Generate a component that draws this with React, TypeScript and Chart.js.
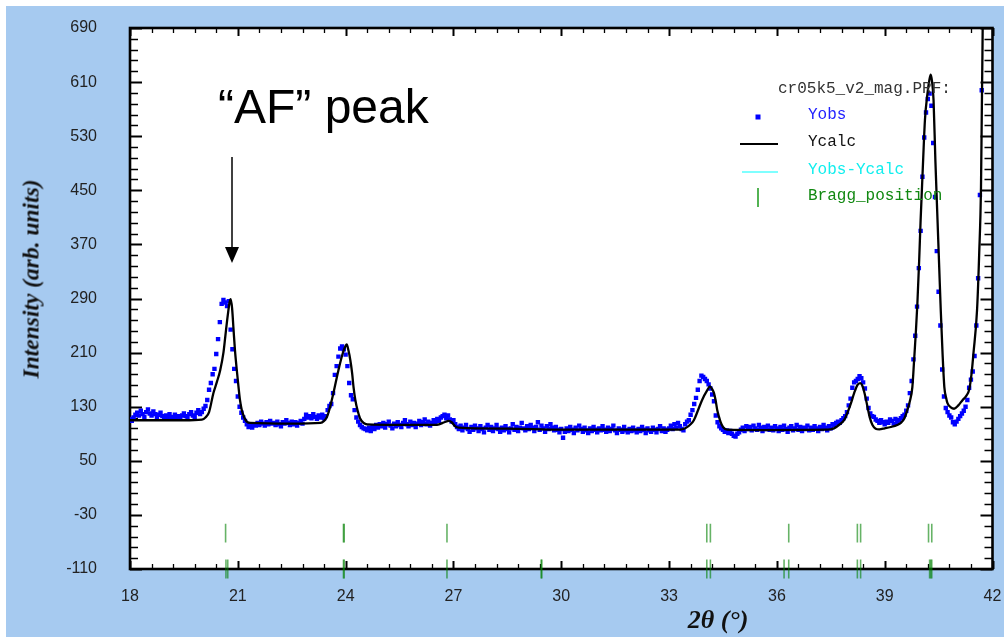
import React, { useEffect, useRef } from "react";
import { Chart, registerables } from "chart.js";

Chart.register(...registerables);

// ---------- axes ----------
const X_MIN = 18;
const X_MAX = 42;
const Y_MIN = -110;
const Y_MAX = 690;
const xTickLabels = [18, 21, 24, 27, 30, 33, 36, 39, 42];
const yTickLabels = [-110, -30, 50, 130, 210, 290, 370, 450, 530, 610, 690];
const xMinorStep = 0.6;
const yMinorStep = 16;

// ---------- Yobs : measured points, 2theta from 18.00 every 0.05 deg ----------
const obsStart = 18.0;
const obsStep = 0.05;
const yObs = [
  112, 109, 114, 118, 121, 117, 124, 119, 115, 122, 126, 120, 117, 123, 119, 114, 118, 121, 116, 113, // 18
  117, 114, 119, 115, 112, 118, 114, 116, 113, 117, 120, 116, 114, 119, 122, 117, 115, 121, 125, 119, // 19
  122, 127, 131, 140, 155, 165, 178, 186, 208, 230, 255, 282, 288, 284, 279, 286, 244, 215, 186, 168, // 20
  145, 130, 121, 114, 109, 104, 100, 103, 99, 104, 102, 106, 103, 108, 105, 102, 107, 104, 109, 105, // 21
  106, 103, 108, 104, 101, 107, 105, 110, 106, 103, 108, 104, 107, 102, 106, 109, 105, 112, 118, 114, // 22
  116, 113, 119, 115, 112, 117, 114, 118, 113, 116, 125, 131, 134, 150, 177, 190, 204, 216, 219, 215, // 23
  207, 190, 165, 147, 141, 125, 114, 108, 103, 100, 98, 97, 95, 99, 94, 100, 97, 103, 99, 104, // 24
  101, 106, 99, 104, 108, 102, 98, 105, 101, 107, 103, 100, 106, 110, 104, 101, 108, 103, 106, 100, // 25
  105, 109, 103, 107, 111, 104, 108, 102, 106, 110, 107, 112, 109, 114, 116, 118, 113, 117, 111, 108, // 26
  110, 104, 100, 97, 102, 95, 99, 103, 97, 93, 100, 96, 102, 98, 94, 101, 97, 92, 99, 103, // 27
  96, 100, 94, 98, 103, 97, 93, 99, 95, 101, 97, 92, 98, 104, 96, 100, 94, 99, 106, 98, // 28
  95, 101, 97, 103, 99, 94, 100, 107, 96, 102, 98, 93, 101, 97, 104, 99, 95, 100, 96, 92, // 29
  97, 84, 93, 98, 94, 100, 96, 91, 99, 95, 102, 97, 93, 99, 95, 91, 98, 94, 100, 96, // 30
  92, 98, 95, 101, 96, 93, 99, 94, 97, 102, 95, 91, 98, 96, 93, 100, 95, 92, 97, 94, // 31
  99, 95, 92, 97, 94, 100, 96, 91, 98, 95, 93, 99, 96, 92, 97, 101, 94, 98, 93, 96, // 32
  98, 102, 97, 104, 99, 106, 101, 97, 95, 104, 108, 110, 118, 125, 134, 143, 155, 168, 176, 174, // 33
  171, 168, 163, 157, 148, 138, 117, 107, 101, 98, 96, 93, 95, 91, 94, 90, 87, 86, 90, 92, // 34
  96, 99, 94, 101, 97, 100, 95, 102, 98, 96, 103, 99, 94, 100, 97, 102, 96, 99, 95, 101, // 35
  98, 94, 100, 96, 102, 97, 93, 99, 101, 95, 98, 103, 96, 100, 94, 99, 97, 102, 95, 99, // 36
  96, 101, 98, 94, 100, 97, 103, 99, 95, 101, 98, 104, 103, 106, 108, 106, 110, 113, 116, 122, // 37
  132, 142, 158, 166, 168, 171, 175, 172, 166, 157, 142, 128, 120, 116, 115, 111, 109, 106, 110, 107, // 38
  104, 108, 106, 111, 109, 105, 112, 106, 110, 113, 116, 118, 124, 132, 150, 168, 200, 235, 278, 335, // 39
  390, 470, 528, 565, 585, 593, 575, 520, 440, 360, 300, 250, 185, 145, 128, 122, 117, 114, 107, 104, // 40
  108, 112, 116, 120, 124, 130, 140, 158, 170, 182, 205, 250, 320, 443, 598, 720, 780, 820, 850, 870, // 41
  890, // 42
];

// ---------- Ycalc : calculated profile, read point by point ----------
const calcTheta = [
  18.0, 19.5, 20.0, 20.1, 20.2, 20.32, 20.42, 20.51, 20.6, 20.65, 20.72, 20.77, 20.8, 20.84, 20.88, 20.92,
  20.97, 21.02, 21.06, 21.11, 21.18, 21.25, 21.35, 22.5, 23.3, 23.4, 23.48, 23.57, 23.66, 23.8, 23.92, 24.0,
  24.03, 24.08, 24.13, 24.18, 24.22, 24.27, 24.33, 24.4, 24.5, 24.6, 26.5, 26.6, 26.75, 26.87, 26.95, 27.05,
  27.15, 28.5, 30.0, 33.3, 33.45, 33.6, 33.69, 33.8, 33.92, 34.06, 34.14, 34.2, 34.25, 34.3, 34.34, 34.39,
  34.43, 34.5, 34.62, 35.5, 37.4, 37.59, 37.75, 37.87, 37.97, 38.06, 38.15, 38.24, 38.32, 38.37, 38.42, 38.47,
  38.52, 38.58, 38.66, 38.75, 38.85, 39.0, 39.17, 39.35, 39.45, 39.55, 39.63, 39.7, 39.77, 39.82, 39.87, 39.91,
  39.96, 40.0, 40.07, 40.12, 40.19, 40.24, 40.28, 40.32, 40.36, 40.41, 40.47, 40.52, 40.56, 40.61, 40.66, 40.71,
  40.75, 40.84, 40.93, 41.05, 41.17, 41.27, 41.35, 41.42, 41.47, 41.57, 41.63, 41.68, 41.7, 41.72, 41.74, 41.78,
];
const yCalc = [
  110, 110, 111, 114, 122, 150, 167, 184, 210, 233, 265, 284, 289, 276, 245, 214,
  185, 159, 140, 125, 114, 108, 106, 105, 106, 109, 115, 130, 150, 184, 209, 220,
  222, 213, 199, 180, 159, 140, 125, 113, 106, 104, 103, 104, 107, 109, 107, 101,
  99, 97.5, 96, 96, 98, 104, 110, 124, 140, 154, 160, 156, 150, 138, 125, 115,
  108, 100, 96, 95.5, 96, 98, 104, 110, 122, 135, 150, 162, 165, 162, 154, 143,
  130, 115, 103, 97.5, 96.5, 98, 100, 103, 106, 113, 125, 138, 159, 200, 243, 283,
  347, 406, 495, 554, 593, 612, 621, 610, 583, 495, 406, 332, 273, 209, 159, 143,
  135, 129, 127, 132, 140, 146, 155, 180, 209, 273, 357, 455, 554, 652, 760, 900,
];

// ---------- Bragg positions (two phases) ----------
const braggRow1 = [20.66, 23.94, 23.96, 26.82, 34.05, 34.15, 36.33, 38.24, 38.33, 40.22, 40.31];
const braggRow2 = [20.67, 20.72, 23.94, 23.96, 26.82, 29.44, 29.46, 34.05, 34.15, 36.2, 36.33, 38.24, 38.33, 40.25, 40.28, 40.31];
const braggRow1Level = -57;
const braggRow2Level = -110;

const TICK_FONT = { family: "'Liberation Sans', Arial, sans-serif", size: 16 };

export default function App() {
  const canvasRef = useRef<HTMLCanvasElement>(null);

  useEffect(() => {
    const canvas = canvasRef.current;
    if (!canvas) return;

    const obsPoints = yObs.map((v, i) => ({ x: +(obsStart + i * obsStep).toFixed(2), y: v }));
    const calcPoints = calcTheta.map((t, i) => ({ x: t, y: yCalc[i] }));
    const bragg1 = braggRow1.map((t) => ({ x: t, y: braggRow1Level }));
    const bragg2 = braggRow2.map((t) => ({ x: t, y: braggRow2Level }));

    const framePlugin = {
      id: "frameTicks",
      beforeDraw(chart: any) {
        const { ctx, chartArea: a } = chart;
        ctx.save();
        ctx.fillStyle = "#ffffff";
        ctx.fillRect(a.left, a.top, a.right - a.left, a.bottom - a.top);
        ctx.restore();
      },
      beforeDatasetsDraw(chart: any) {
        const { ctx, chartArea: a, scales } = chart;
        const xs = scales.x;
        const ys = scales.y;
        ctx.save();
        ctx.strokeStyle = "#000";
        ctx.lineCap = "butt";
        const nx = Math.round((X_MAX - X_MIN) / xMinorStep);
        for (let i = 0; i <= nx; i++) {
          const v = X_MIN + i * xMinorStep;
          const px = Math.round(xs.getPixelForValue(v)) + 0.5;
          const major = i % 5 === 0;
          const len = major ? 8 : 5;
          ctx.lineWidth = major ? 2 : 1.3;
          ctx.beginPath();
          ctx.moveTo(px, a.bottom);
          ctx.lineTo(px, a.bottom - len);
          ctx.moveTo(px, a.top);
          ctx.lineTo(px, a.top + len);
          ctx.stroke();
        }
        const ny = Math.round((Y_MAX - Y_MIN) / yMinorStep);
        for (let i = 0; i <= ny; i++) {
          const v = Y_MIN + i * yMinorStep;
          const py = Math.round(ys.getPixelForValue(v)) + 0.5;
          const major = i % 5 === 0;
          const len = major ? 12 : 8;
          ctx.lineWidth = major ? 2 : 1.3;
          ctx.beginPath();
          ctx.moveTo(a.left, py);
          ctx.lineTo(a.left + len, py);
          ctx.moveTo(a.right, py);
          ctx.lineTo(a.right - len, py);
          ctx.stroke();
        }
        ctx.lineWidth = 2.6;
        ctx.strokeRect(a.left, a.top, a.right - a.left, a.bottom - a.top);
        ctx.restore();
      },
    };

    const chart = new Chart(canvas, {
      type: "scatter",
      data: {
        datasets: [
          {
            label: "Ycalc",
            data: calcPoints,
            showLine: true,
            borderColor: "#000000",
            borderWidth: 2.3,
            pointRadius: 0,
            cubicInterpolationMode: "monotone",
            fill: false,
          } as any,
          {
            label: "Yobs",
            data: obsPoints,
            pointStyle: "rect",
            pointRadius: 3.1,
            backgroundColor: "#0000ff",
            borderWidth: 0,
            showLine: false,
          },
          {
            label: "Bragg_position",
            data: bragg1,
            pointStyle: "line",
            rotation: 90,
            pointRadius: 9.3,
            borderColor: "rgba(0,128,0,0.6)",
            borderWidth: 1.6,
            showLine: false,
          },
          {
            label: "Bragg_position 2",
            data: bragg2,
            pointStyle: "line",
            rotation: 90,
            pointRadius: 9.5,
            borderColor: "rgba(0,128,0,0.6)",
            borderWidth: 1.6,
            showLine: false,
            clip: false,
          } as any,
        ],
      },
      options: {
        animation: false,
        responsive: false,
        maintainAspectRatio: false,
        events: [],
        layout: { padding: { left: 0, top: 22, right: 11.5, bottom: 0 } },
        plugins: {
          legend: { display: false },
          tooltip: { enabled: false },
        },
        scales: {
          x: {
            type: "linear",
            min: X_MIN,
            max: X_MAX,
            afterBuildTicks: (s: any) => {
              s.ticks = xTickLabels.map((v) => ({ value: v }));
            },
            afterFit: (s: any) => {
              s.height = 68;
              s.paddingLeft = 0;
              s.paddingRight = 0;
            },
            grid: { display: false, drawTicks: false },
            border: { display: false },
            ticks: {
              padding: 18,
              color: "#222",
              font: TICK_FONT,
              maxRotation: 0,
              autoSkip: false,
            },
          },
          y: {
            type: "linear",
            min: Y_MIN,
            max: Y_MAX,
            afterBuildTicks: (s: any) => {
              s.ticks = yTickLabels.map((v) => ({ value: v }));
            },
            afterFit: (s: any) => {
              s.width = 124;
              s.paddingTop = 0;
              s.paddingBottom = 0;
            },
            grid: { display: false, drawTicks: false },
            border: { display: false },
            ticks: {
              padding: 33,
              color: "#222",
              font: TICK_FONT,
              autoSkip: false,
            },
          },
        },
      },
      plugins: [framePlugin],
    });

    return () => chart.destroy();
  }, []);

  const mono = "'Liberation Mono', 'Courier New', monospace";
  const legendText = (text: string, color: string, top: number, left: number) => (
    <div
      style={{
        position: "absolute",
        left,
        top,
        fontFamily: mono,
        fontSize: 16,
        lineHeight: "16px",
        color,
        whiteSpace: "pre",
      }}
    >
      {text}
    </div>
  );

  return (
    <div
      style={{
        position: "absolute",
        left: 6,
        top: 6,
        width: 998,
        height: 631,
        background: "#A6CAF0",
        overflow: "hidden",
      }}
    >
      <canvas ref={canvasRef} width={998} height={631} style={{ display: "block", width: 998, height: 631 }} />

      {/* axis titles */}
      <div
        style={{
          position: "absolute",
          left: 25,
          top: 273,
          transform: "translate(-50%, -50%) rotate(-90deg)",
          whiteSpace: "nowrap",
          fontFamily: "'Liberation Serif', 'Times New Roman', serif",
          fontStyle: "italic",
          fontWeight: "bold",
          fontSize: 23.5,
          color: "#111",
        }}
      >
        Intensity (arb. units)
      </div>
      <div
        style={{
          position: "absolute",
          left: 712,
          top: 614,
          transform: "translate(-50%, -50%)",
          whiteSpace: "nowrap",
          fontFamily: "'Liberation Serif', 'Times New Roman', serif",
          fontStyle: "italic",
          fontWeight: "bold",
          fontSize: 26,
          color: "#111",
        }}
      >
        2θ (°)
      </div>

      {/* annotation */}
      <div
        style={{
          position: "absolute",
          left: 212,
          top: 77.4,
          fontFamily: "'Liberation Sans', Arial, sans-serif",
          fontSize: 48,
          lineHeight: "48px",
          color: "#000",
          whiteSpace: "nowrap",
        }}
      >
        “AF” peak
      </div>
      <svg style={{ position: "absolute", left: 0, top: 0 }} width={998} height={631}>
        <line x1={226} y1={151} x2={226} y2={243} stroke="#000" strokeWidth={1.5} />
        <polygon points="219,241 233,241 226,257" fill="#000" />
        {/* legend markers */}
        <rect x={749.5} y={108.5} width={5} height={5} fill="#0000ff" />
        <line x1={734} y1={138} x2={772} y2={138} stroke="#000" strokeWidth={2} />
        <line x1={736} y1={166} x2={772} y2={166} stroke="#00ffff" strokeWidth={1.2} />
        <line x1={752} y1={182} x2={752} y2={201} stroke="#1a9a1a" strokeWidth={1.5} />
      </svg>

      {/* legend */}
      {legendText("cr05k5_v2_mag.PRF:", "#333", 75, 772)}
      {legendText("Yobs", "#2222ff", 101, 802)}
      {legendText("Ycalc", "#111", 128.4, 802)}
      {legendText("Yobs-Ycalc", "#11eeee", 155.7, 802)}
      {legendText("Bragg_position", "#118811", 181.7, 802)}
    </div>
  );
}
